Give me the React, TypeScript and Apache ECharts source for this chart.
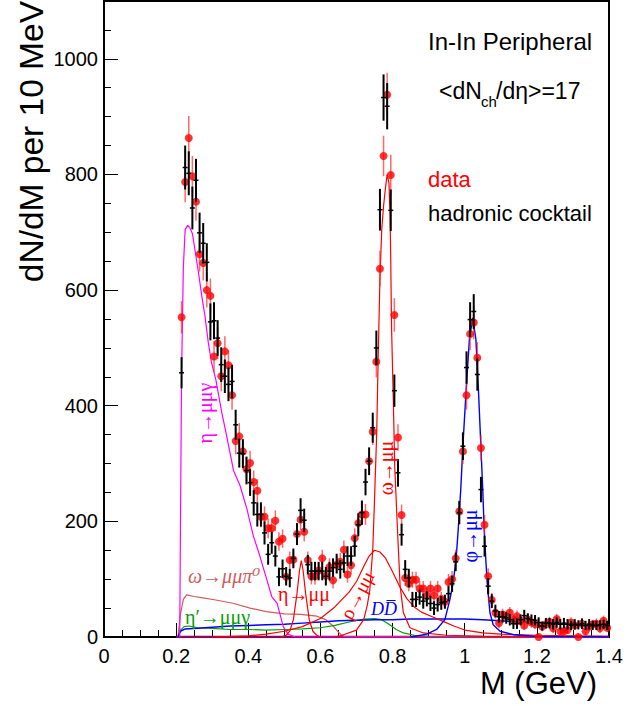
import React, { useEffect, useRef } from "react";
import * as echarts from "echarts";

// [mass (GeV), dN/dM, error]
const dataRed: number[][] = [
  [0.215, 553, 28], [0.225, 787, 35], [0.235, 863, 38], [0.245, 797, 35], [0.255, 753, 33],
  [0.265, 662, 30], [0.275, 647, 30], [0.285, 600, 30], [0.295, 590, 30], [0.305, 485, 27],
  [0.315, 508, 27], [0.325, 451, 26], [0.335, 494, 26], [0.345, 470, 26], [0.355, 418, 25],
  [0.365, 339, 23], [0.375, 347, 23], [0.385, 321, 22], [0.395, 290, 21], [0.405, 301, 21],
  [0.415, 268, 20], [0.425, 253, 20], [0.435, 208, 18], [0.445, 208, 18], [0.455, 188, 17],
  [0.465, 188, 17], [0.475, 201, 18], [0.485, 165, 16], [0.495, 170, 16], [0.505, 104, 14],
  [0.515, 133, 15], [0.525, 134, 15], [0.535, 178, 17], [0.545, 203, 18], [0.555, 182, 17],
  [0.565, 133, 15], [0.575, 105, 14], [0.585, 105, 14], [0.595, 115, 14], [0.605, 136, 15],
  [0.615, 106, 14], [0.625, 121, 15], [0.635, 98, 14], [0.645, 125, 15], [0.655, 130, 15],
  [0.665, 151, 16], [0.675, 108, 14], [0.685, 124, 15], [0.695, 171, 17], [0.705, 197, 18],
  [0.715, 212, 18], [0.725, 212, 18], [0.735, 304, 22], [0.745, 355, 23], [0.755, 476, 27],
  [0.765, 637, 31], [0.775, 832, 35], [0.785, 938, 38], [0.795, 799, 35], [0.805, 557, 29],
  [0.815, 345, 23], [0.825, 211, 18], [0.835, 102, 14], [0.845, 92, 13], [0.855, 99, 14],
  [0.865, 99, 14], [0.875, 84, 13], [0.885, 84, 13], [0.895, 72, 12], [0.905, 84, 13],
  [0.915, 72, 12], [0.925, 84, 13], [0.935, 66, 12], [0.945, 61, 12], [0.955, 95, 14],
  [0.965, 100, 14], [0.975, 136, 15], [0.985, 217, 19], [0.995, 321, 22], [1.005, 418, 25],
  [1.015, 524, 28], [1.025, 544, 29], [1.035, 483, 27], [1.045, 327, 22], [1.055, 194, 17],
  [1.065, 105, 14], [1.075, 64, 12], [1.085, 42, 10], [1.095, 24, 9], [1.105, 39, 10],
  [1.115, 36, 10], [1.125, 42, 10], [1.135, 30, 9], [1.145, 36, 10], [1.155, 28, 9],
  [1.165, 20, 8], [1.175, 30, 9], [1.185, 25, 9], [1.195, 22, 8], [1.205, 0, 6],
  [1.215, 18, 8], [1.225, 22, 8], [1.235, 26, 9], [1.245, 15, 8], [1.255, 31, 9],
  [1.265, 10, 7], [1.275, 10, 7], [1.285, 12, 7], [1.295, 25, 9], [1.305, 20, 8],
  [1.315, 0, 6], [1.325, 23, 9], [1.335, 10, 7], [1.345, 18, 8], [1.355, 22, 8],
  [1.365, 23, 9], [1.375, 15, 8], [1.385, 28, 9], [1.395, 16, 8],
];

const cocktailBlack: number[][] = [
  [0.215, 457, 27], [0.225, 812, 38], [0.235, 802, 38], [0.245, 742, 37], [0.255, 790, 37],
  [0.265, 699, 35], [0.275, 681, 35], [0.285, 648, 33], [0.295, 545, 32], [0.305, 547, 32],
  [0.315, 517, 31], [0.325, 471, 30], [0.335, 451, 29], [0.345, 437, 29], [0.355, 442, 29],
  [0.365, 367, 26], [0.375, 318, 25], [0.385, 317, 25], [0.395, 288, 24], [0.405, 267, 23],
  [0.415, 232, 22], [0.425, 212, 21], [0.435, 212, 21], [0.445, 180, 20], [0.455, 143, 18],
  [0.465, 163, 19], [0.475, 140, 18], [0.485, 104, 16], [0.495, 118, 16], [0.505, 105, 16],
  [0.515, 102, 16], [0.525, 136, 17], [0.535, 178, 19], [0.545, 219, 21], [0.555, 202, 20],
  [0.565, 125, 17], [0.575, 114, 16], [0.585, 114, 16], [0.595, 114, 16], [0.605, 114, 16],
  [0.615, 105, 16], [0.625, 114, 16], [0.635, 120, 16], [0.645, 127, 17], [0.655, 117, 16],
  [0.665, 128, 17], [0.675, 140, 17], [0.685, 140, 17], [0.695, 157, 18], [0.705, 194, 20],
  [0.715, 215, 21], [0.725, 268, 23], [0.735, 304, 24], [0.745, 362, 26], [0.755, 500, 30],
  [0.765, 739, 36], [0.775, 933, 40], [0.785, 918, 40], [0.795, 738, 36], [0.805, 426, 28],
  [0.815, 284, 24], [0.825, 177, 19], [0.835, 117, 16], [0.845, 102, 16], [0.855, 65, 13],
  [0.865, 65, 13], [0.875, 69, 13], [0.885, 62, 13], [0.895, 66, 13], [0.905, 58, 13],
  [0.915, 50, 12], [0.925, 56, 12], [0.935, 59, 12], [0.945, 61, 12], [0.955, 75, 13],
  [0.965, 92, 14], [0.975, 130, 16], [0.985, 215, 20], [0.995, 330, 24], [1.005, 466, 28],
  [1.015, 549, 30], [1.025, 563, 30], [1.035, 454, 28], [1.045, 255, 22], [1.055, 157, 18],
  [1.065, 88, 14], [1.075, 62, 12], [1.085, 45, 11], [1.095, 35, 10], [1.105, 35, 10],
  [1.115, 33, 10], [1.125, 30, 10], [1.135, 23, 9], [1.145, 23, 9], [1.155, 30, 9],
  [1.165, 37, 10], [1.175, 32, 9], [1.185, 30, 9], [1.195, 29, 9], [1.205, 25, 9],
  [1.215, 19, 8], [1.225, 24, 9], [1.235, 24, 9], [1.245, 22, 9], [1.255, 25, 9],
  [1.265, 22, 9], [1.275, 24, 9], [1.285, 22, 9], [1.295, 20, 8], [1.305, 22, 9],
  [1.315, 21, 8], [1.325, 23, 9], [1.335, 20, 8], [1.345, 22, 9], [1.355, 20, 8],
  [1.365, 20, 8], [1.375, 21, 8], [1.385, 22, 8], [1.395, 20, 8],
];

// cocktail components [mass, dN/dM]
const etaDalitz: number[][] = [
  [0.21, 0], [0.212, 200], [0.215, 450], [0.22, 640], [0.225, 705], [0.232, 712], [0.238, 708],
  [0.245, 698], [0.252, 670], [0.262, 630], [0.271, 590], [0.28, 555], [0.289, 510], [0.298, 475],
  [0.31, 445], [0.326, 390], [0.34, 348], [0.359, 288], [0.377, 262], [0.396, 222], [0.414, 175],
  [0.432, 140], [0.451, 100], [0.465, 70], [0.48, 58], [0.497, 18], [0.51, 5], [0.53, 0], [1.4, 0],
];
const omegaDalitz: number[][] = [
  [0.205, 0], [0.212, 40], [0.22, 65], [0.229, 73], [0.25, 70], [0.27, 68], [0.31, 64], [0.36, 58],
  [0.405, 50], [0.45, 44], [0.5, 40], [0.545, 39], [0.59, 36], [0.615, 30], [0.635, 19], [0.655, 5],
  [0.67, 0], [1.4, 0],
];
const etaPrimeDalitz: number[][] = [
  [0.205, 0], [0.212, 12], [0.222, 18], [0.235, 19], [0.26, 16], [0.3, 15], [0.35, 13], [0.4, 13],
  [0.45, 12], [0.5, 13], [0.55, 14], [0.6, 16], [0.64, 20], [0.68, 26], [0.72, 31], [0.75, 32],
  [0.77, 30], [0.79, 22], [0.81, 13], [0.83, 7], [0.86, 3], [0.9, 1], [0.95, 0], [1.4, 0],
];
const ddbar: number[][] = [
  [0.205, 0], [0.212, 10], [0.225, 14], [0.26, 15], [0.3, 17], [0.35, 19], [0.4, 20], [0.45, 21],
  [0.5, 22], [0.55, 24], [0.6, 26], [0.65, 28], [0.7, 29], [0.75, 30], [0.8, 30], [0.85, 31],
  [0.9, 31], [0.95, 31], [1.0, 31], [1.05, 30], [1.1, 28], [1.15, 26], [1.2, 25], [1.25, 23],
  [1.3, 21], [1.35, 19], [1.4, 17],
];
const etaMuMu: number[][] = [
  [0.49, 0], [0.505, 3], [0.515, 10], [0.525, 30], [0.535, 75], [0.542, 115], [0.547, 132],
  [0.552, 115], [0.559, 75], [0.569, 30], [0.579, 10], [0.59, 3], [0.6, 0],
];
const rhoMuMu: number[][] = [
  [0.3, 0], [0.4, 2], [0.45, 5], [0.5, 10], [0.55, 18], [0.6, 32], [0.64, 52], [0.68, 78],
  [0.7, 96], [0.72, 122], [0.735, 140], [0.75, 150], [0.765, 147], [0.78, 137], [0.8, 113],
  [0.82, 87], [0.84, 66], [0.86, 52], [0.88, 43], [0.91, 35], [0.94, 27], [0.97, 19], [1.0, 12],
  [1.05, 7], [1.1, 5], [1.2, 3], [1.3, 2], [1.4, 1],
];
const omegaMuMu: number[][] = [
  [0.64, 0], [0.66, 3], [0.7, 12], [0.72, 30], [0.73, 55], [0.737, 82], [0.745, 150], [0.75, 238],
  [0.756, 353], [0.76, 480], [0.765, 620], [0.77, 705], [0.775, 745], [0.78, 775], [0.785, 800],
  [0.79, 785], [0.793, 730], [0.795, 650], [0.797, 540], [0.802, 411], [0.806, 295], [0.814, 180],
  [0.821, 88], [0.83, 42], [0.848, 16], [0.885, 7], [0.95, 3], [1.05, 1], [1.2, 0],
];
const phiMuMu: number[][] = [
  [0.85, 0], [0.895, 5], [0.922, 13], [0.945, 30], [0.959, 65], [0.968, 94], [0.976, 134],
  [0.982, 186], [0.989, 255], [0.996, 342], [1.004, 428], [1.013, 515], [1.022, 552], [1.031, 515],
  [1.038, 428], [1.044, 342], [1.05, 255], [1.054, 186], [1.059, 128], [1.063, 88], [1.07, 42],
  [1.079, 21], [1.098, 10], [1.135, 4], [1.2, 1], [1.4, 0],
];
const baseline: number[][] = [[0.2, 0], [1.4, 0]];

const SANS = "Liberation Sans, Arial, sans-serif";
const SERIF = "Liberation Serif, DejaVu Serif, serif";

function errorBars(color: string, width: number, half: number) {
  return (params: any, api: any) => {
    const x = api.value(0);
    const y = api.value(1);
    const e = api.value(2);
    const top = api.coord([x, y + e]);
    const bot = api.coord([x, Math.max(0, y - e)]);
    const c = api.coord([x, y]);
    const children: any[] = [
      { type: "line", shape: { x1: top[0], y1: top[1], x2: bot[0], y2: bot[1] }, style: { stroke: color, lineWidth: width } },
    ];
    if (half > 0) {
      children.push({ type: "line", shape: { x1: c[0] - half, y1: c[1], x2: c[0] + half, y2: c[1] }, style: { stroke: color, lineWidth: 1.5 } });
    }
    return { type: "group", children };
  };
}

function lineSeries(name: string, data: number[][], color: string, width = 1.2) {
  return {
    name,
    type: "line",
    data,
    showSymbol: false,
    symbol: "none",
    lineStyle: { color, width },
    z: 2,
    silent: true,
  };
}

function txt(text: string, x: number, y: number, color: string, font: string, opts: any = {}) {
  return {
    type: "text",
    x,
    y,
    rotation: opts.rotation || 0,
    z: 10,
    style: {
      text,
      fill: color,
      font,
      align: opts.align || "left",
      textAlign: opts.align || "left",
      verticalAlign: "middle",
      textVerticalAlign: "middle",
    },
  };
}

export default function App() {
  const ref = useRef<HTMLDivElement>(null);
  useEffect(() => {
    if (!ref.current) return;
    const chart = echarts.init(ref.current, null, { renderer: "svg" });
    chart.setOption({
      animation: false,
      backgroundColor: "#fff",
      grid: { left: 104, top: 1, right: 34, bottom: 69, show: true, borderColor: "#000", borderWidth: 2, backgroundColor: "transparent" },
      xAxis: {
        type: "value",
        min: 0,
        max: 1.4,
        interval: 0.2,
        axisLine: { show: true, lineStyle: { color: "#000", width: 2 } },
        axisTick: { show: true, inside: true, length: 14, lineStyle: { color: "#000", width: 1 } },
        minorTick: { show: true, splitNumber: 4, length: 7, lineStyle: { color: "#000", width: 1 } },
        splitLine: { show: false },
        minorSplitLine: { show: false },
        axisLabel: { color: "#000", fontSize: 20, fontFamily: SANS, margin: 9, formatter: (v: number) => String(Math.round(v * 10) / 10) },
      },
      yAxis: [
        {
          type: "value",
          min: 0,
          max: 1100,
          interval: 200,
          axisLine: { show: true, lineStyle: { color: "#000", width: 2 } },
          axisTick: { show: true, inside: true, length: 14, lineStyle: { color: "#000", width: 1 } },
          splitLine: { show: false },
          axisLabel: { color: "#000", fontSize: 20, fontFamily: SANS, margin: 6, showMaxLabel: false, formatter: (v: number) => String(v) },
        },
        {
          type: "value",
          min: 0,
          max: 1100,
          interval: 50,
          position: "left",
          axisLine: { show: false },
          axisTick: { show: true, inside: true, length: 7, lineStyle: { color: "#000", width: 1 } },
          splitLine: { show: false },
          axisLabel: { show: false },
        },
      ],
      series: [
        lineSeries("baseline", baseline, "#8a0a5a", 2.5),
        lineSeries("omegaDalitz", omegaDalitz, "#cd5c5c", 1.2),
        lineSeries("etaPrimeDalitz", etaPrimeDalitz, "#00a000", 1.2),
        lineSeries("ddbar", ddbar, "#0000ff", 1.5),
        lineSeries("etaDalitz", etaDalitz, "#ff00ff", 1.2),
        lineSeries("etaMuMu", etaMuMu, "#ff0000", 1.2),
        lineSeries("rhoMuMu", rhoMuMu, "#ff0000", 1.2),
        lineSeries("omegaMuMu", omegaMuMu, "#ff0000", 1.2),
        lineSeries("phiMuMu", phiMuMu, "#0000ff", 1.4),
        {
          name: "dataErr",
          type: "custom",
          data: dataRed,
          encode: { x: 0, y: 1 },
          renderItem: errorBars("rgba(255,40,40,0.7)", 1.5, 0),
          z: 3,
          silent: true,
        },
        {
          name: "data",
          type: "scatter",
          data: dataRed.map((d) => [d[0], d[1]]),
          symbol: "circle",
          symbolSize: 8,
          itemStyle: { color: "#ff0000" },
          z: 4,
          silent: true,
        },
        {
          name: "cocktail",
          type: "custom",
          data: cocktailBlack,
          encode: { x: 0, y: 1 },
          renderItem: errorBars("#000", 2, 2.5),
          z: 5,
          silent: true,
        },
      ],
      graphic: [
        txt("dN/dM per 10 MeV", 31, 1, "#000", `33.5px ${SANS}`, { rotation: Math.PI / 2, align: "right" }),
        txt("M (GeV)", 597, 683, "#000", `31px ${SANS}`, { align: "right" }),
        txt("In-In Peripheral", 428, 41, "#000", `24px ${SANS}`),
        txt("<dN", 439, 91, "#000", `23px ${SANS}`),
        txt("ch", 481, 101, "#000", `15px ${SANS}`),
        txt("/dη>=17", 496, 91, "#000", `23px ${SANS}`),
        txt("data", 428, 179, "#ff0000", `22px ${SANS}`),
        txt("hadronic cocktail", 428, 213, "#000", `22px ${SANS}`),
        txt("η→μμγ", 205, 413, "#ff00ff", `20px ${SERIF}`, { rotation: Math.PI / 2, align: "center" }),
        txt("ω→μμπ⁰", 188, 576, "#cd5c5c", `italic 20px ${SERIF}`),
        txt("η′→μμγ", 185, 617, "#00a000", `20px ${SERIF}`),
        txt("η→μμ", 278, 594, "#ff0000", `20px ${SERIF}`),
        txt("ρ→μμ", 357, 595, "#ff0000", `20px ${SERIF}`, { rotation: (62 * Math.PI) / 180, align: "center" }),
        txt("ω→μμ", 386, 468, "#ff0000", `20px ${SERIF}`, { rotation: Math.PI / 2, align: "center" }),
        txt("φ→μμ", 470, 536, "#0000ff", `20px ${SERIF}`, { rotation: Math.PI / 2, align: "center" }),
        txt("DD̅", 384, 609, "#0000ff", `italic 18px ${SERIF}`, { align: "center" }),
      ],
    });
    return () => chart.dispose();
  }, []);
  return <div ref={ref} style={{ position: "absolute", left: 0, top: 0, width: 643, height: 706 }} />;
}
